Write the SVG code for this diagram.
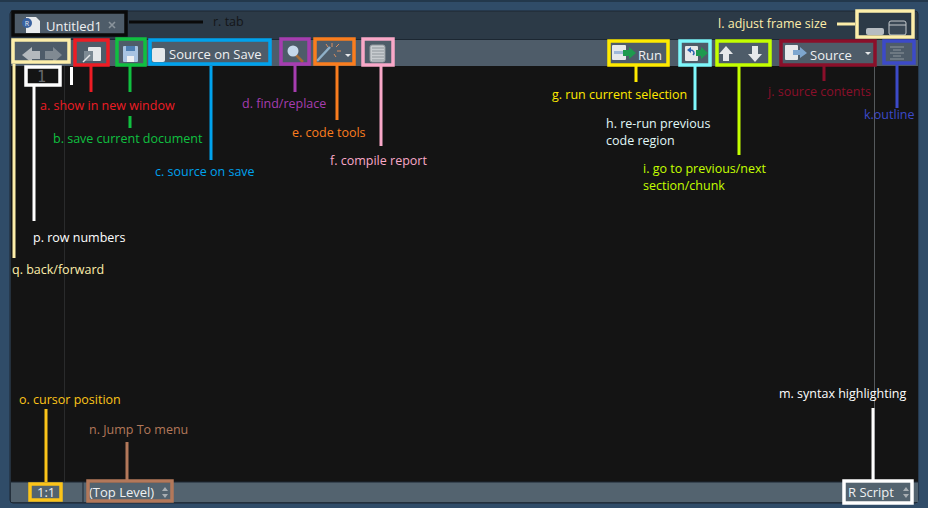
<svg xmlns="http://www.w3.org/2000/svg" width="928" height="508" viewBox="0 0 928 508">
<style>
text{font-family:"Open Sans","Noto Sans","Liberation Sans",sans-serif;font-size:12.500px}
.ui{fill:#eef0f2;font-size:13px}
.box{fill:none;stroke-width:3.500}
.ln{fill:none;stroke-width:3}
.ic{fill:#e6e8ea}
</style>
<rect width="928" height="508" fill="#304c68"/>
<rect y="0" width="928" height="2" fill="#23384c"/>
<rect x="10" y="11" width="908" height="492" rx="3" fill="#2c3a47" stroke="#1c2732"/>
<rect x="11" y="40" width="907" height="26" fill="#4e5c69"/>
<rect x="11" y="66" width="907" height="416" fill="#141414"/>
<rect x="11" y="482" width="907" height="20" fill="#53636f"/>
<path d="M11 39.500H918M11 482H918" stroke="#1c2732" fill="none"/>
<path d="M64.500 66V482" stroke="#2a2b2c" fill="none"/>
<path d="M874.500 66V482" stroke="#55595c" fill="none"/>
<path d="M83 482V502" stroke="#1c2732"/>
<g id="tab">
<rect x="14" y="13" width="112" height="22" fill="#4e5c69"/>
<path d="M26 17H36L40 21V33H26Z" fill="#e8eaec"/>
<circle cx="27" cy="23" r="5" fill="#3a62a0"/>
<text x="27" y="26" fill="#e8eaec" style="font-size:7px" text-anchor="middle">R</text>
<text x="46" y="31" class="ui">Untitled1</text>
<path d="M109 22L115 28M115 22L109 28" stroke="#8a949c" stroke-width="1.600"/>
<rect x="13" y="12" width="113" height="23" class="box" stroke="#0a0a0a"/>
<text x="213" y="26" fill="#141618">r. tab</text>
</g>
<g id="back-forward">
<path d="M22 55L32 47V51H40V59H32V63Z" fill="#b4b9bd"/>
<path d="M62 55L53 47V51H45V59H53V63Z" fill="#808a92"/>
<rect x="13" y="40" width="56" height="22" class="box" stroke="#fdeeaa"/>
<text x="12" y="274" fill="#fdeeaa">q. back/forward</text>
</g>
<g id="row-numbers">
<text x="37" y="82" fill="#686b6e" style="font-family:'DejaVu Sans Mono',monospace;font-size:15px">1</text>
<rect x="26" y="67" width="34" height="18" class="box" stroke="#fff"/>
<rect x="70" y="67" width="3" height="18" fill="#fff"/>
<text x="33" y="242" fill="#fff">p. row numbers</text>
</g>
<g id="a-show-in-new-window">
<rect x="88" y="47" width="13" height="14" rx="1" class="ic"/>
<rect x="84" y="51" width="9" height="10" fill="#7d8a94"/>
<path d="M83 62L90 55" stroke="#e6e8ea" stroke-width="1.500"/>
<rect x="75" y="40" width="33" height="25" class="box" stroke="#ed1c24"/>
<text x="40" y="110" fill="#ed1c24">a. show in new window</text>
</g>
<g id="b-save-current-document">
<rect x="123" y="46" width="15" height="16" rx="1" fill="#a9c4e2"/>
<rect x="126" y="46" width="9" height="5" fill="#4d7eb2"/>
<rect x="127" y="56" width="7" height="6" fill="#eef0f2"/>
<rect x="117" y="39" width="28" height="26" class="box" stroke="#10c040"/>
<text x="53" y="143" fill="#10c040">b. save current document</text>
</g>
<g id="c-source-on-save">
<rect x="152" y="48" width="13" height="14" rx="2" class="ic"/>
<text x="169" y="59" class="ui">Source on Save</text>
<rect x="150" y="40" width="120" height="24" class="box" stroke="#00a2ed"/>
<text x="155" y="176" fill="#00a2ed">c. source on save</text>
</g>
<g id="d-find-replace">
<path d="M296 55L303 62" stroke="#a56a35" stroke-width="2.500"/>
<circle cx="293" cy="51" r="5.500" fill="#c5d8ea"/>
<rect x="281" y="39" width="28" height="25" class="box" stroke="#a63db0"/>
<text x="242" y="108" fill="#a63db0">d. find/replace</text>
</g>
<g id="e-code-tools">
<path d="M317 61L330 47" stroke="#8fb0c8" stroke-width="2.500"/>
<path d="M332 43V47M336 47L339 44M337 51H341M334 54L336 57M326 44L328 47" stroke="#d98f60"/>
<path d="M345 54H351L348 57Z" fill="#e6e8ea"/>
<rect x="315" y="39" width="39" height="25" class="box" stroke="#fa7d1e"/>
<text x="292" y="137" fill="#fa7d1e">e. code tools</text>
</g>
<g id="f-compile-report">
<rect x="370" y="45" width="15" height="17" rx="2" fill="#c8ccd0" stroke="#8f969c"/>
<path d="M372 48H384M372 51H384M372 54H384M372 57H384M372 60H384" stroke="#8f969c" fill="none"/>
<rect x="363" y="39" width="30" height="26" class="box" stroke="#f9a8c8"/>
<text x="330" y="165" fill="#f9a8c8">f. compile report</text>
</g>
<g id="g-run-current-selection">
<rect x="612" y="45" width="14" height="15" rx="1" class="ic"/>
<rect x="614" y="51" width="9" height="3" fill="#9fb8d8"/>
<path d="M623 50H629V47L636 53L629 59V56H623Z" fill="#1e9a4e"/>
<text x="638" y="60" class="ui">Run</text>
<rect x="609" y="41" width="59" height="24" class="box" stroke="#ffea00"/>
<text x="552" y="99" fill="#ffea00">g. run current selection</text>
</g>
<g id="h-re-run-previous-code-region">
<rect x="685" y="46" width="13" height="15" rx="1" class="ic"/>
<path d="M687 50L691 47V53Z" fill="#2b62b0"/>
<path d="M690 50C694 50 695 53 693 55" stroke="#2b62b0" stroke-width="1.500" fill="none"/>
<path d="M696 50H701V47L708 53L701 59V56H696Z" fill="#1e9a4e"/>
<rect x="680" y="41" width="30" height="24" class="box" stroke="#7ef7fb"/>
<text x="606" y="128" fill="#e0f8f8">h. re-run previous</text>
<text x="606" y="145" fill="#e0f8f8">code region</text>
</g>
<g id="i-previous-next-section">
<path d="M726 46L733 54H729V61H723V54H719Z" class="ic"/>
<path d="M752 46H758V54H762L755 62L748 54H752Z" class="ic"/>
<rect x="717" y="41" width="53" height="24" class="box" stroke="#c4ff00"/>
<text x="643" y="173" fill="#c4ff00">i. go to previous/next</text>
<text x="643" y="190" fill="#c4ff00">section/chunk</text>
</g>
<g id="j-source-contents">
<rect x="785" y="45" width="13" height="15" rx="1" class="ic"/>
<path d="M793 50H800V47L807 53L800 58V55H793Z" fill="#7ea6cf"/>
<text x="810" y="60" class="ui">Source</text>
<path d="M865 52H871L868 55Z" fill="#e6e8ea"/>
<rect x="781" y="41" width="94" height="24" class="box" stroke="#8a0f2a"/>
<text x="768" y="96" fill="#8a0f2a">j. source contents</text>
</g>
<g id="k-outline">
<path d="M890 47H904M893 50H901M890 53H904M893 56H901M890 59H904" stroke="#8d969d" fill="none"/>
<rect x="884" y="41" width="30" height="22" class="box" stroke="#3c4ac8"/>
<text x="864" y="119" fill="#3c4ac8">k.outline</text>
</g>
<g id="l-adjust-frame-size">
<rect x="866" y="28" width="18" height="7" rx="2" fill="#b6bcc1"/>
<rect x="889" y="21" width="17" height="14" rx="2" fill="#3a4855" stroke="#c3c8cc"/>
<path d="M889 25H906" stroke="#c3c8cc"/>
<rect x="857" y="11" width="56" height="26" class="box" stroke="#fdeeaa"/>
<text x="718" y="28" fill="#fdeeaa">l. adjust frame size</text>
</g>
<g id="m-syntax-highlighting">
<text x="848" y="497" class="ui">R Script</text>
<path d="M903 491H909L906 487ZM903 494H909L906 498Z" fill="#a8aeb3"/>
<rect x="844" y="481" width="68" height="22" class="box" stroke="#fff"/>
<text x="779" y="398" fill="#fff">m. syntax highlighting</text>
</g>
<g id="n-jump-to-menu">
<text x="89" y="497" class="ui">(Top Level)</text>
<path d="M162 491H168L165 487ZM162 494H168L165 498Z" fill="#a8aeb3"/>
<rect x="88" y="481" width="84" height="20" class="box" stroke="#b3785a"/>
<text x="89" y="434" fill="#b3785a">n. Jump To menu</text>
</g>
<g id="o-cursor-position">
<text x="37" y="497" class="ui">1:1</text>
<rect x="30" y="484" width="31" height="16" class="box" stroke="#fcc419"/>
<text x="19" y="404" fill="#fcc419">o. cursor position</text>
</g>
<g id="connectors" class="ln">
<path d="M129 22H203" stroke="#0a0a0a"/>
<path d="M14 64V258" stroke="#fdeeaa"/>
<path d="M34 86V221" stroke="#fff"/>
<path d="M91 66V92" stroke="#ed1c24"/>
<path d="M130 66V92" stroke="#10c040"/>
<path d="M130 116V128" stroke="#10c040"/>
<path d="M211 66V160" stroke="#00a2ed"/>
<path d="M295 65V92" stroke="#a63db0"/>
<path d="M337 65V120" stroke="#fa7d1e"/>
<path d="M381 66V146" stroke="#f9a8c8"/>
<path d="M636 66V82" stroke="#ffea00"/>
<path d="M695 66V110" stroke="#7ef7fb"/>
<path d="M739 66V155" stroke="#c4ff00"/>
<path d="M824 66V81" stroke="#8a0f2a"/>
<path d="M897 65V108" stroke="#3c4ac8"/>
<path d="M837 24H855" stroke="#fdeeaa"/>
<path d="M873 408V480" stroke="#fff"/>
<path d="M127 442V480" stroke="#b3785a"/>
<path d="M46 409V482" stroke="#fcc419"/>
</g>
</svg>
